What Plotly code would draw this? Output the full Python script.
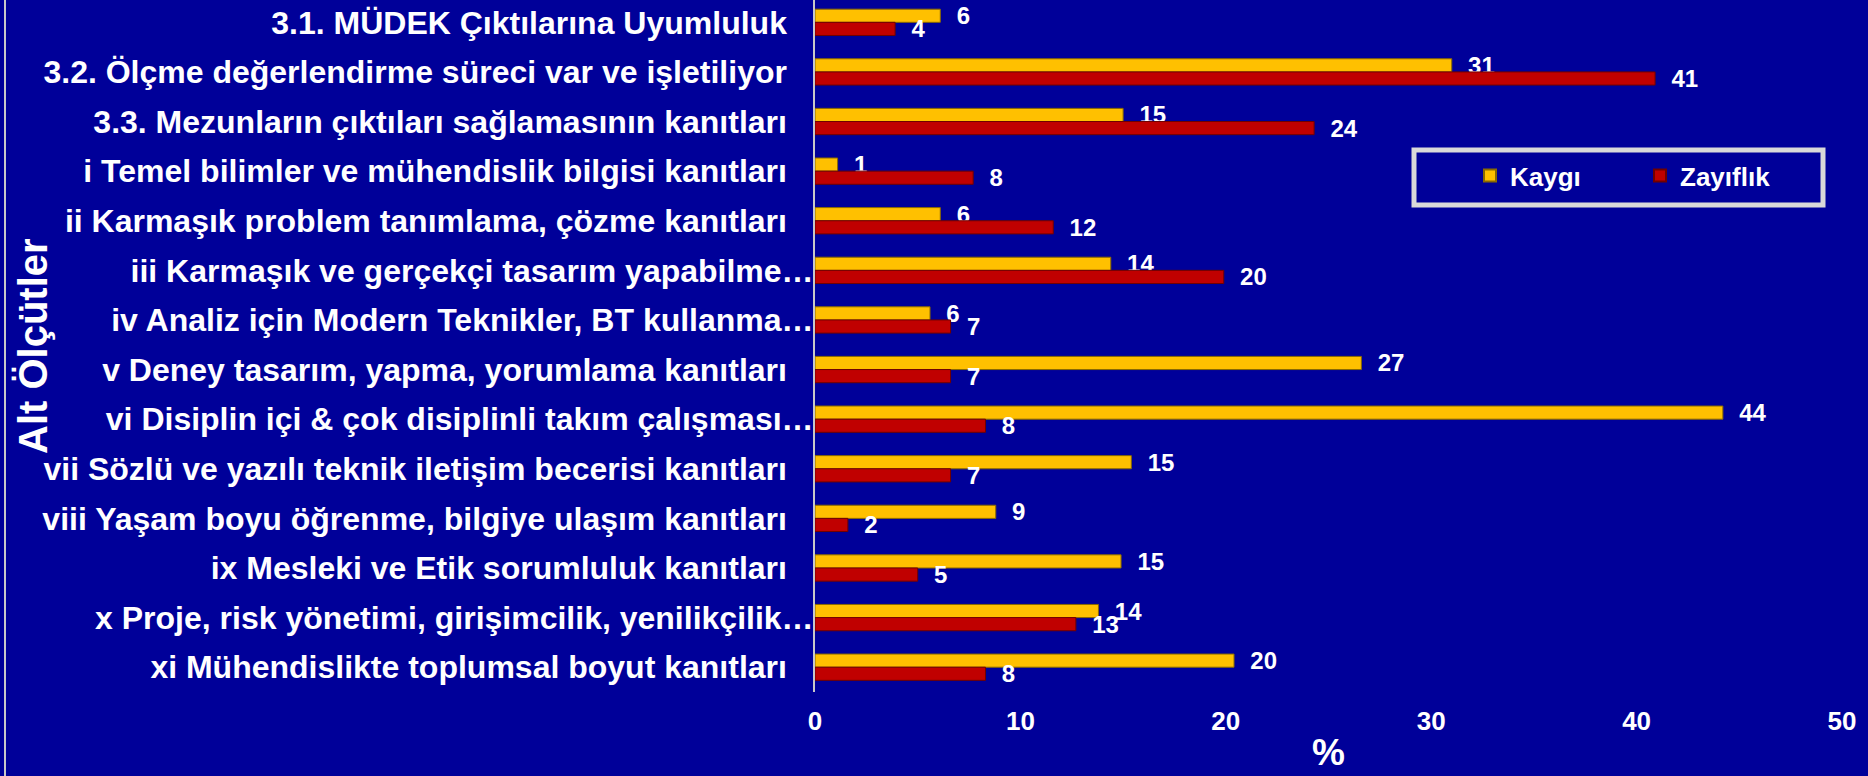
import plotly.graph_objects as go

categories = [
    "3.1. MÜDEK Çıktılarına Uyumluluk",
    "3.2. Ölçme değerlendirme süreci var ve işletiliyor",
    "3.3. Mezunların çıktıları sağlamasının kanıtları",
    "i Temel bilimler ve mühendislik bilgisi kanıtları",
    "ii Karmaşık problem tanımlama, çözme kanıtları",
    "iii Karmaşık ve gerçekçi tasarım yapabilme…",
    "iv Analiz için Modern Teknikler, BT kullanma…",
    "v Deney tasarım, yapma, yorumlama kanıtları",
    "vi Disiplin içi & çok disiplinli takım çalışması…",
    "vii Sözlü ve yazılı teknik iletişim becerisi kanıtları",
    "viii Yaşam boyu öğrenme, bilgiye ulaşım kanıtları",
    "ix Mesleki ve Etik sorumluluk kanıtları",
    "x Proje, risk yönetimi, girişimcilik, yenilikçilik…",
    "xi Mühendislikte toplumsal boyut kanıtları",
]
kaygi = [6.1, 31.0, 15.0, 1.1, 6.1, 14.4, 5.6, 26.6, 44.2, 15.4, 8.8, 14.9, 13.8, 20.4]
zayiflik = [3.9, 40.9, 24.3, 7.7, 11.6, 19.9, 6.6, 6.6, 8.3, 6.6, 1.6, 5.0, 12.7, 8.3]
x_ticks = [0, 10, 20, 30, 40, 50]
series_names = ["Kaygı", "Zayıflık"]
x_title = "%"
y_title = "Alt Ölçütler"

W, H = 1868, 776
ML, MR, MT, MB = 815, 26, 0, 84
PW, PH = W - ML - MR, H - MT - MB

BG = "#000099"
YEL = "#FFC000"
RED = "#C00000"
FONT = "Liberation Sans, Arial, sans-serif"

def px_x(p):
    return (p - ML) / PW

def px_y(p):
    return 1 - (p - MT) / PH

NB = "\u00a0"
ticktext = [c if c.endswith("…") else c + NB * 3 for c in categories]

label_font = dict(family=FONT, size=24, color="white", weight="bold")

fig = go.Figure()
fig.add_trace(go.Bar(
    y=categories, x=kaygi, name=series_names[0], orientation="h",
    marker=dict(color=YEL, line=dict(color="#8a6a00", width=1)),
    texttemplate=NB * 2 + "%{x:.0f}", textposition="outside",
    textfont=label_font, constraintext="none", cliponaxis=False,
))
fig.add_trace(go.Bar(
    y=categories, x=zayiflik, name=series_names[1], orientation="h",
    marker=dict(color=RED, line=dict(color="#700000", width=1)),
    texttemplate=NB * 2 + "%{x:.0f}", textposition="outside",
    textfont=label_font, constraintext="none", cliponaxis=False,
))

fig.update_layout(
    width=W, height=H,
    margin=dict(l=ML, r=MR, t=MT, b=MB, pad=0),
    paper_bgcolor=BG, plot_bgcolor=BG,
    barmode="group", bargap=0.47, bargroupgap=0,
    showlegend=True,
    legend=dict(
        orientation="h", x=px_x(1470), y=px_y(152), xanchor="left", yanchor="top",
        bgcolor="rgba(0,0,0,0)", borderwidth=0,
        font=dict(family=FONT, size=26, color="white", weight="bold"),
        entrywidth=125, entrywidthmode="pixels", itemsizing="constant",
    ),
    xaxis=dict(
        range=[0, 50], tickvals=x_ticks, showgrid=False, zeroline=False,
        showline=False, ticks="", ticklabelstandoff=11,
        tickfont=dict(family=FONT, size=26, color="white", weight="bold"),
        fixedrange=True,
    ),
    yaxis=dict(
        type="category", range=[13.5, -0.45], tickvals=categories, ticktext=ticktext,
        showgrid=False, zeroline=False, showline=True, linecolor="#c8c8c8", linewidth=2,
        ticks="", ticklabelstandoff=-7,
        tickfont=dict(family=FONT, size=32, color="white", weight="bold"),
        fixedrange=True,
    ),
    shapes=[
        dict(type="rect", xref="paper", yref="paper",
             x0=px_x(1414), x1=px_x(1823), y0=px_y(150), y1=px_y(205),
             line=dict(color="#d9d9d9", width=5), fillcolor="rgba(0,0,0,0)", layer="below"),
        dict(type="line", xref="paper", yref="paper",
             x0=px_x(5), x1=px_x(5), y0=px_y(0), y1=px_y(H),
             line=dict(color="#c8c8c8", width=2)),
    ],
    annotations=[
        dict(text=y_title, xref="paper", yref="paper", x=px_x(33), y=px_y(346),
             xanchor="center", yanchor="middle", textangle=-90, showarrow=False,
             font=dict(family=FONT, size=40, color="white", weight="bold")),
        dict(text=x_title, xref="paper", yref="paper", x=0.5, y=px_y(775),
             xanchor="center", yanchor="bottom", showarrow=False,
             font=dict(family=FONT, size=37, color="white", weight="bold")),
    ],
)

fig.write_html(
    "out.html",
    config={"displayModeBar": False},
    post_script="document.body.style.margin='0';document.body.style.padding='0';"
                "document.body.style.overflow='hidden';",
)
